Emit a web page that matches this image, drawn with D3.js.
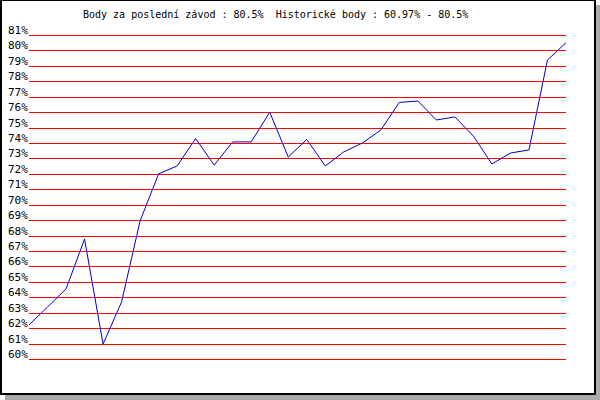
<!DOCTYPE html>
<html><head><meta charset="utf-8">
<script src="https://cdn.jsdelivr.net/npm/d3@7"></script>
<style>body{margin:0;background:#fff}svg{display:block}text{white-space:pre}</style>
</head><body>
<svg id="c" width="600" height="400"></svg>
<script>
const title = "Body za poslední závod : 80.5%  Historické body : 60.97% - 80.5%";
const races = d3.range(1, 31);
const points = [62.21, 63.37, 64.54, 67.78, 60.97, 63.7, 68.95, 72.0, 72.51, 74.29,
  72.57, 74.07, 74.07, 76.0, 73.09, 74.23, 72.51, 73.42, 74.0, 74.84,
  76.63, 76.72, 75.49, 75.69, 74.45, 72.64, 73.35, 73.55, 79.38, 80.5];
const tickValues = d3.range(60, 82);
const tickLabels = tickValues.map(v => v + "%");

const svg = d3.select("#c");
const font = "'DejaVu Sans Mono', monospace";

// shadow + frame
svg.append("rect").attr("x", 596).attr("y", 5).attr("width", 4).attr("height", 395).attr("fill", "#aaaaaa");
svg.append("rect").attr("x", 5).attr("y", 395).attr("width", 595).attr("height", 5).attr("fill", "#aaaaaa");
svg.append("rect").attr("x", 0).attr("y", 0).attr("width", 596).attr("height", 395).attr("fill", "#000");
svg.append("rect").attr("x", 2).attr("y", 1).attr("width", 592).attr("height", 392).attr("fill", "#fff");

const x = d3.scaleLinear().domain([1, 30]).range([29, 566]);
const y = d3.scaleLinear().domain([60, 81]).range([359, 35]);

// gridlines
svg.append("g").selectAll("line").data(tickValues).join("line")
  .attr("x1", 29).attr("x2", 566)
  .attr("y1", d => Math.round(y(d)) + 0.5).attr("y2", d => Math.round(y(d)) + 0.5)
  .attr("stroke", "#ff0000").attr("stroke-width", 1).attr("shape-rendering", "crispEdges");

// labels
svg.append("g").selectAll("text").data(tickValues).join("text")
  .attr("x", 8).attr("y", d => Math.round(y(d)) - 1)
  .attr("font-family", font).attr("font-size", 11).attr("fill", "#000")
  .text((d, i) => tickLabels[i]);

// line
const line = d3.line().x((d, i) => x(races[i])).y(d => y(d));
svg.append("path").datum(points).attr("d", line)
  .attr("fill", "none").attr("stroke", "#0000cc").attr("stroke-width", 1);

// title
svg.append("text").attr("x", 83).attr("y", 18)
  .attr("xml:space", "preserve")
  .attr("font-family", font).attr("font-size", 10).attr("fill", "#000")
  .text(title);
</script>
</body></html>
